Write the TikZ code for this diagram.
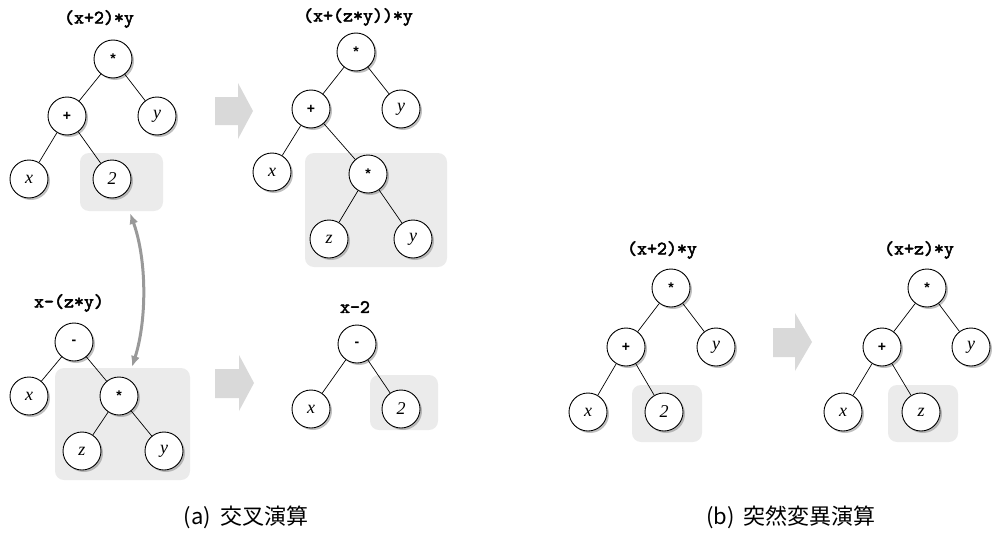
\documentclass[tikz,border=0pt]{standalone}
\usepackage{fontspec}
\setmainfont{Liberation Serif}
\newfontfamily\opfont{Liberation Sans}
\newfontfamily\codefont{lmmono10-regular.otf}[FakeBold=2.5]
\newfontfamily\cjk{Noto Sans CJK JP}
\usetikzlibrary{arrows.meta,shadows}

\begin{document}
\begin{tikzpicture}[x=1pt,y=-1pt,
  tnode/.style={circle,draw,line width=0.9pt,fill=white,minimum size=38pt,inner sep=0pt,
    font=\fontsize{18}{18}\selectfont\itshape,
    drop shadow={shadow xshift=2pt,shadow yshift=-2pt,fill=black!50}},
  opnode/.style={tnode,font=\opfont\bfseries\fontsize{14}{14}\selectfont},
  edge/.style={line width=0.7pt},
  swapbox/.style={fill=black!8,rounded corners=9pt},
  expr/.style={font=\codefont\fontsize{19}{19}\selectfont},
  bigarrow/.style={fill=black!15,draw=none},
  swaparrow/.style={draw=black!40,line width=3pt,{Latex[length=11pt,width=9pt]}-{Latex[length=11pt,width=9pt]}},
  caption/.style={font=\cjk\fontsize{22}{22}\selectfont},
]
\useasboundingbox (0,0) rectangle (992,535);

% shaded sub-trees that are swapped or replaced
\fill[swapbox] (80,153) rectangle (163,211);
\fill[swapbox] (305,153) rectangle (447,267);
\fill[swapbox] (55,368) rectangle (190,480);
\fill[swapbox] (370,375) rectangle (438,430);
\fill[swapbox] (632,385) rectangle (702,442);
\fill[swapbox] (888,385) rectangle (958,442);

% big "becomes" arrows
\fill[bigarrow] (215,97) -- (238,97) -- (238,83) -- (253,111) -- (238,139) -- (238,125) -- (215,125) -- cycle;
\fill[bigarrow] (215,369) -- (239,369) -- (239,355) -- (254,383) -- (239,411) -- (239,398) -- (215,398) -- cycle;
\fill[bigarrow] (773,328) -- (795,328) -- (795,313) -- (812,342) -- (795,371) -- (795,357) -- (773,357) -- cycle;

% tree (x+2)*y
\node[expr] (e1) at (99,19) {(x+2)*y};
\node[opnode] (r1) at (113,59) {*};
\node[opnode] (p1) at (67,116) {+};
\node[tnode] (y1) at (157,116) {y};
\node[tnode] (x1) at (29,179) {x};
\node[tnode] (c1) at (112,179) {2};
\draw[edge] (r1) -- (p1); \draw[edge] (r1) -- (y1);
\draw[edge] (p1) -- (x1); \draw[edge] (p1) -- (c1);

% tree (x+(z*y))*y
\node[expr] (e2) at (358,17) {(x+(z*y))*y};
\node[opnode] (r2) at (356,52) {*};
\node[opnode] (p2) at (311,109) {+};
\node[tnode] (y2a) at (401,109) {y};
\node[tnode] (x2) at (272,172) {x};
\node[opnode] (m2) at (368,174) {*};
\node[tnode] (z2) at (329,239) {z};
\node[tnode] (y2b) at (413,239) {y};
\draw[edge] (r2) -- (p2); \draw[edge] (r2) -- (y2a);
\draw[edge] (p2) -- (x2); \draw[edge] (p2) -- (m2);
\draw[edge] (m2) -- (z2); \draw[edge] (m2) -- (y2b);

% tree x-(z*y)
\node[expr] (e3) at (69,303) {x-(z*y)};
\node[opnode] (r3) at (74,342) {-};
\node[tnode] (x3) at (29,396) {x};
\node[opnode] (m3) at (119,396) {*};
\node[tnode] (z3) at (82,451) {z};
\node[tnode] (y3) at (164,451) {y};
\draw[edge] (r3) -- (x3); \draw[edge] (r3) -- (m3);
\draw[edge] (m3) -- (z3); \draw[edge] (m3) -- (y3);

% tree x-2
\node[expr] (e4) at (355,307) {x-2};
\node[opnode] (r4) at (357,344) {-};
\node[tnode] (x4) at (311,409) {x};
\node[tnode] (c4) at (401,409) {2};
\draw[edge] (r4) -- (x4); \draw[edge] (r4) -- (c4);

% exchange of the two sub-trees
\coordinate (swapA) at (130,213);
\coordinate (swapB) at (132,367);
\draw[swaparrow] (swapA) .. controls (147,260) and (147,320) .. (swapB);

% tree (x+2)*y before mutation
\node[expr] (e5) at (662,250) {(x+2)*y};
\node[opnode] (r5) at (671,288) {*};
\node[opnode] (p5) at (626,347) {+};
\node[tnode] (y5) at (716,347) {y};
\node[tnode] (x5) at (588,412) {x};
\node[tnode] (c5) at (664,412) {2};
\draw[edge] (r5) -- (p5); \draw[edge] (r5) -- (y5);
\draw[edge] (p5) -- (x5); \draw[edge] (p5) -- (c5);

% tree (x+z)*y after mutation
\node[expr] (e6) at (919,250) {(x+z)*y};
\node[opnode] (r6) at (927,288) {*};
\node[opnode] (p6) at (882,347) {+};
\node[tnode] (y6) at (971,347) {y};
\node[tnode] (x6) at (843,412) {x};
\node[tnode] (z6) at (921,412) {z};
\draw[edge] (r6) -- (p6); \draw[edge] (r6) -- (y6);
\draw[edge] (p6) -- (x6); \draw[edge] (p6) -- (z6);

% captions
\node[caption] (capA) at (246,517) {(a)\hspace{9pt}交叉演算};
\node[caption] (capB) at (791,517) {(b)\hspace{9pt}突然変異演算};
\end{tikzpicture}
\end{document}
